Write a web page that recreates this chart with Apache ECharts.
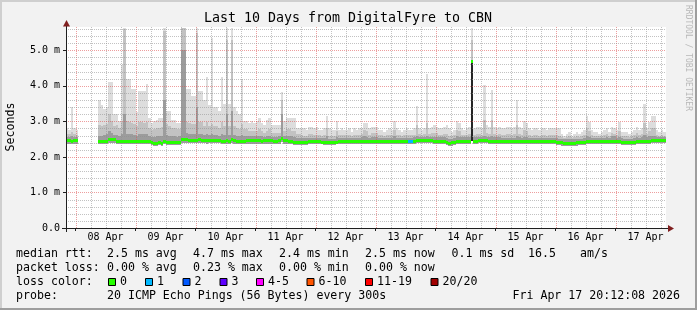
<!DOCTYPE html>
<html><head><meta charset="utf-8">
<script src="https://cdn.jsdelivr.net/npm/echarts@6/dist/echarts.min.js"></script>
<style>html,body{margin:0;padding:0;background:#f2f2f2;}#c{width:697px;height:310px;}</style>
</head><body><div id="c"></div>
<script>
// ---------------- DATA (hourly bins, values in ms) ----------------
const title = 'Last 10 Days from DigitalFyre to CBN';
const dayLabels = ['08 Apr','09 Apr','10 Apr','11 Apr','12 Apr','13 Apr','14 Apr','15 Apr','16 Apr','17 Apr'];
const yTickValues = [0, 1, 2, 3, 4, 5];
const lossLabels = ['0','1','2','3','4-5','6-10','11-19','20/20'];
const lossColors = ['#26ff00','#00b8ff','#0059ff','#5e00ff','#ff00ff','#ff5500','#ff0000','#a10000'];
// bin i covers hour (i-4) .. (i-3) relative to 08 Apr 00:00
const firstBinHour = -4;
// lowest ping (bottom of smoke)
const lo = [
2.37,2.37,2.36,2.37,2.37,null,null,null,null,null,
null,null,null,2.36,2.36,2.36,2.37,2.40,2.40,2.39,
2.37,2.36,2.36,2.37,2.36,2.36,2.37,2.36,2.36,2.36,
2.37,2.36,2.36,2.35,2.33,2.32,2.32,2.33,2.32,2.35,
2.34,2.34,2.34,2.34,2.34,2.34,2.40,2.40,2.39,2.38,
2.38,2.38,2.38,2.39,2.38,2.38,2.37,2.38,2.38,2.38,
2.38,2.38,2.37,2.37,2.37,2.37,2.40,2.37,2.37,2.37,
2.37,2.37,2.37,2.37,2.37,2.37,2.37,2.37,2.37,2.37,
2.37,2.37,2.37,2.37,2.37,2.37,2.42,2.37,2.37,2.37,
2.36,2.34,2.34,2.34,2.33,2.34,2.34,2.35,2.36,2.36,
2.36,2.36,2.35,2.34,2.34,2.33,2.34,2.34,2.35,2.36,
2.36,2.36,2.36,2.36,2.36,2.36,2.36,2.36,2.36,2.36,
2.36,2.36,2.36,2.36,2.36,2.36,2.36,2.36,2.36,2.36,
2.36,2.36,2.36,2.36,2.36,2.36,2.36,2.36,2.36,2.36,
2.38,2.38,2.38,2.38,2.38,2.38,2.38,2.37,2.37,2.37,
2.37,2.36,2.33,2.32,2.32,2.34,2.36,2.37,2.37,2.37,
2.37,2.37,2.44,2.37,2.37,2.38,2.38,2.38,2.38,2.37,
2.37,2.37,2.37,2.36,2.36,2.36,2.36,2.36,2.36,2.36,
2.36,2.36,2.36,2.36,2.36,2.36,2.36,2.36,2.36,2.36,
2.36,2.36,2.36,2.36,2.35,2.35,2.34,2.33,2.32,2.32,
2.32,2.32,2.32,2.32,2.32,2.33,2.33,2.34,2.35,2.35,
2.35,2.36,2.36,2.36,2.36,2.36,2.36,2.36,2.36,2.36,
2.36,2.35,2.34,2.33,2.33,2.33,2.33,2.34,2.35,2.36,
2.36,2.37,2.37,2.37,2.38,2.38,2.38,2.38,2.38,2.38];
// median rtt
const med = [
2.47,2.48,2.46,2.47,2.47,null,null,null,null,null,
null,null,null,2.45,2.45,2.45,2.46,2.50,2.51,2.50,
2.46,2.45,2.45,2.46,2.45,2.45,2.46,2.45,2.45,2.45,
2.46,2.45,2.45,2.44,2.41,2.40,2.40,2.41,2.40,2.44,
2.42,2.42,2.43,2.42,2.42,2.43,2.50,2.51,2.49,2.48,
2.48,2.48,2.48,2.49,2.48,2.48,2.47,2.48,2.48,2.48,
2.48,2.48,2.46,2.46,2.47,2.46,2.50,2.47,2.46,2.46,
2.46,2.46,2.47,2.47,2.47,2.47,2.47,2.47,2.46,2.47,
2.47,2.47,2.47,2.46,2.46,2.47,2.52,2.47,2.47,2.46,
2.45,2.42,2.42,2.42,2.41,2.42,2.42,2.44,2.45,2.45,
2.45,2.45,2.43,2.42,2.42,2.41,2.42,2.42,2.43,2.44,
2.45,2.45,2.45,2.45,2.44,2.45,2.45,2.45,2.46,2.45,
2.45,2.45,2.44,2.44,2.44,2.44,2.44,2.45,2.45,2.45,
2.45,2.45,2.45,2.45,2.45,2.45,2.44,2.44,2.44,2.45,
2.47,2.48,2.48,2.48,2.48,2.47,2.47,2.46,2.46,2.46,
2.46,2.45,2.42,2.40,2.41,2.43,2.45,2.46,2.46,2.46,
2.46,2.46,4.70,2.46,2.46,2.47,2.47,2.47,2.47,2.46,
2.46,2.46,2.46,2.45,2.45,2.45,2.45,2.45,2.45,2.45,
2.46,2.45,2.45,2.46,2.46,2.45,2.45,2.45,2.45,2.45,
2.45,2.45,2.45,2.45,2.44,2.44,2.43,2.42,2.41,2.40,
2.40,2.40,2.40,2.40,2.41,2.41,2.42,2.43,2.44,2.44,
2.44,2.45,2.45,2.45,2.45,2.45,2.45,2.45,2.45,2.45,
2.45,2.44,2.43,2.42,2.42,2.42,2.42,2.43,2.44,2.45,
2.45,2.46,2.46,2.46,2.47,2.47,2.47,2.47,2.47,2.47];
// top of the dark smoke band
const dk = [
2.56,2.56,2.58,2.56,2.55,null,null,null,null,null,
null,null,null,2.60,2.60,2.62,2.64,2.72,2.68,2.62,
2.62,2.60,2.64,3.20,2.64,2.64,2.64,2.62,2.60,2.64,
2.64,2.64,2.64,2.60,2.56,2.56,2.58,2.58,2.60,3.60,
2.62,2.60,2.58,2.58,2.56,2.58,5.00,5.00,2.66,2.64,
2.64,2.64,3.40,2.64,2.64,2.62,2.64,2.62,2.64,2.62,
2.62,2.60,2.64,2.62,3.20,2.62,3.30,2.62,2.60,2.60,
2.62,2.60,2.60,2.58,2.58,2.58,2.58,2.60,2.58,2.56,
2.58,2.60,2.56,2.56,2.56,2.58,3.20,2.58,2.60,2.60,
2.58,2.55,2.52,2.52,2.52,2.52,2.52,2.54,2.54,2.53,
2.53,2.53,2.52,2.52,2.58,2.51,2.51,2.51,2.56,2.53,
2.54,2.53,2.54,2.54,2.53,2.54,2.54,2.54,2.55,2.58,
2.56,2.54,2.56,2.56,2.56,2.54,2.54,2.53,2.54,2.54,
2.54,2.58,2.54,2.54,2.53,2.54,2.54,2.54,2.54,2.55,
2.60,2.57,2.56,2.57,2.60,2.56,2.56,2.56,2.55,2.55,
2.55,2.55,2.53,2.51,2.51,2.53,2.58,2.56,2.55,2.55,
2.55,2.55,4.70,2.55,2.55,2.56,2.56,2.60,2.56,2.55,
2.60,2.55,2.55,2.55,2.54,2.54,2.54,2.54,2.54,2.54,
2.60,2.55,2.54,2.56,2.56,2.54,2.54,2.54,2.54,2.54,
2.54,2.54,2.54,2.54,2.53,2.53,2.52,2.51,2.50,2.49,
2.49,2.50,2.49,2.49,2.50,2.50,2.51,2.52,2.60,2.56,
2.53,2.54,2.54,2.54,2.54,2.54,2.55,2.54,2.60,2.58,
2.54,2.56,2.52,2.51,2.51,2.51,2.51,2.52,2.56,2.54,
2.55,2.62,2.56,2.58,2.60,2.58,2.56,2.56,2.56,2.56];
// top of the medium smoke band
const md = [
2.64,2.64,2.70,2.64,2.62,null,null,null,null,null,
null,null,null,2.90,2.86,2.90,2.92,3.20,3.02,2.88,
2.90,2.82,2.98,5.60,3.02,2.98,2.95,2.92,2.88,2.98,
2.98,2.95,2.98,2.82,2.76,2.78,2.80,2.82,2.85,5.55,
2.92,2.88,2.82,2.82,2.78,2.78,5.64,5.64,2.98,2.95,
2.92,2.92,5.50,2.98,2.98,2.88,2.98,2.88,2.92,2.88,
2.88,2.82,2.98,2.88,5.30,2.88,5.30,2.88,2.82,2.78,
2.92,2.78,2.78,2.72,2.72,2.72,2.72,2.78,2.72,2.68,
2.72,2.78,2.68,2.68,2.68,2.68,3.60,2.72,2.78,2.78,
2.72,2.72,2.64,2.64,2.62,2.60,2.60,2.64,2.64,2.62,
2.63,2.62,2.60,2.63,2.80,2.60,2.60,2.60,2.74,2.62,
2.63,2.62,2.62,2.63,2.60,2.63,2.62,2.63,2.65,2.76,
2.74,2.63,2.68,2.68,2.68,2.62,2.62,2.60,2.62,2.63,
2.62,2.76,2.63,2.62,2.60,2.62,2.62,2.62,2.62,2.63,
2.90,2.65,2.63,2.65,2.95,2.65,2.66,2.68,2.66,2.63,
2.63,2.65,2.65,2.60,2.58,2.62,2.76,2.72,2.63,2.62,
2.63,2.65,5.30,2.63,2.65,2.65,2.63,3.05,2.66,2.65,
3.05,2.65,2.63,2.65,2.62,2.62,2.65,2.65,2.62,2.65,
2.90,2.65,2.62,2.76,2.74,2.62,2.60,2.62,2.62,2.60,
2.62,2.62,2.60,2.62,2.62,2.62,2.61,2.60,2.56,2.54,
2.55,2.58,2.54,2.55,2.58,2.55,2.58,2.62,2.80,2.72,
2.62,2.60,2.60,2.58,2.60,2.62,2.65,2.60,2.68,2.65,
2.62,2.74,2.58,2.58,2.58,2.56,2.58,2.62,2.66,2.62,
2.65,2.95,2.65,2.74,2.80,2.80,2.62,2.60,2.62,2.60];
// highest ping (top of light smoke)
const hi = [
2.80,2.75,3.40,2.80,2.75,null,null,null,null,null,
null,null,null,3.60,3.45,3.35,3.40,4.10,4.10,3.20,
3.20,3.00,4.58,5.64,4.20,4.20,3.90,3.90,3.25,3.85,
3.85,3.85,4.05,3.10,2.95,3.00,3.05,3.10,3.10,5.64,
3.30,3.30,3.05,3.05,2.95,2.95,5.64,5.64,3.90,3.90,
3.70,3.70,5.64,3.85,3.85,3.60,4.25,3.45,5.35,3.40,
3.40,3.30,4.25,3.50,5.64,3.50,5.64,3.40,3.30,3.20,
4.20,3.00,3.00,2.95,3.00,2.95,3.00,3.10,2.95,2.90,
3.05,3.10,2.90,2.90,2.90,2.90,3.83,3.00,3.10,3.10,
3.10,3.10,2.80,2.80,2.80,2.80,2.75,2.85,2.85,2.80,
2.85,2.75,2.75,2.80,3.15,2.80,2.75,2.75,3.00,2.75,
2.80,2.75,2.75,2.80,2.70,2.80,2.75,2.80,2.80,2.95,
2.95,2.80,2.85,2.85,2.85,2.75,2.75,2.70,2.75,2.80,
2.75,3.00,2.80,2.75,2.70,2.75,2.80,2.75,2.75,2.80,
3.43,2.80,2.75,2.80,4.34,2.80,2.85,2.90,2.85,2.80,
2.80,2.85,2.90,2.80,2.70,2.75,3.00,2.95,2.80,2.75,
2.80,2.85,5.64,2.80,2.85,2.85,2.80,4.02,2.90,2.85,
3.87,2.85,2.80,2.85,2.80,2.80,2.85,2.85,2.80,2.85,
3.60,2.85,2.80,3.00,2.95,2.80,2.75,2.80,2.80,2.75,
2.80,2.80,2.75,2.80,2.80,2.80,2.80,2.80,2.65,2.60,
2.65,2.70,2.60,2.65,2.70,2.65,2.70,2.75,3.15,2.98,
2.75,2.70,2.70,2.65,2.70,2.75,2.80,2.70,2.85,2.80,
2.75,2.98,2.70,2.70,2.70,2.65,2.70,2.75,2.85,2.75,
2.80,3.48,2.80,2.98,3.15,3.15,2.75,2.70,2.75,2.70];
// lost pings (of 20) per bin
const loss = [
0,0,0,0,0,null,null,null,null,null,
null,null,null,0,0,0,0,0,0,0,
0,0,0,0,0,0,0,0,0,0, 0,0,0,0,0,0,0,0,0,0,
0,0,0,0,0,0,0,0,0,0, 0,0,0,0,0,0,0,0,0,0,
0,0,0,0,0,0,0,0,0,0, 0,0,0,0,0,0,0,0,0,0,
0,0,0,0,0,0,0,0,0,0, 0,0,0,0,0,0,0,0,0,0,
0,0,0,0,0,0,0,0,0,0, 0,0,0,0,0,0,0,0,0,0,
0,0,0,0,0,0,0,0,0,0, 0,0,0,0,0,0,0,1,1,0,
0,0,0,0,0,0,0,0,0,0, 0,0,0,0,0,0,0,0,0,0,
0,0,0,0,0,0,0,0,0,0, 0,0,0,0,0,0,0,0,0,0,
0,0,0,0,0,0,0,0,0,0, 0,0,0,0,0,0,0,0,0,0,
0,0,0,0,0,0,0,0,0,0, 0,0,0,0,0,0,0,0,0,0,
0,0,0,0,0,0,0,0,0,0, 0,0,0,0,0,0,0,0,0,0];
// bins where nearly all pings sit between median and lo (black core)
const coreBins = [162];
const coreTop = [4.70];

const legendRows = [
  {y:254, items:[[16,'median rtt:'],[107,'2.5 ms avg'],[193,'4.7 ms max'],[279,'2.4 ms min'],[365,'2.5 ms now'],[451.5,'0.1 ms sd'],[528,'16.5'],[580,'am/s']]},
  {y:268, items:[[16,'packet loss:'],[107,'0.00 % avg'],[193,'0.23 % max'],[279,'0.00 % min'],[365,'0.00 % now']]},
  {y:282, items:[[16,'loss color:']]},
  {y:296, items:[[16,'probe:'],[107,'20 ICMP Echo Pings (56 Bytes) every 300s']]}
];
const swatchX = [108, 145, 182.5, 219.5, 256, 306.5, 365, 430.5];
const dateText = 'Fri Apr 17 20:12:08 2026';

// ---------------- CHART ----------------
const MONO = '"DejaVu Sans Mono", "Liberation Mono", monospace';
const G = {left:66, top:27, width:600, height:201};
const xMin = -3.8, xMax = 236.2, yMax = 5.655;
const hours = lo.map((_, i) => firstBinHour + i);

function lossIndex(n){ if(n<=3) return n; if(n<=5) return 4; if(n<=10) return 5; if(n<=19) return 6; return 7; }

function binX(api, i){
  return [Math.round(api.coord([hours[i], 0])[0]), Math.round(api.coord([hours[i]+1, 0])[0])];
}
function Yp(api, v){ return Math.round(api.coord([0, v])[1]); }

const smokeSeries = {
  type:'custom', name:'smoke', z:2, clip:true, silent:true,
  data: hours.map((h,i)=>[h, i]), encode:{x:0, y:1},
  renderItem(params, api){
    const i = params.dataIndex;
    if (lo[i] == null) return null;
    const [x0, x1] = binX(api, i);
    const band = (a, b, fill) => {
      const ya = Yp(api, a), yb = Yp(api, b);
      return {type:'rect', shape:{x:x0, y:yb, width:x1-x0, height:Math.max(0, ya-yb)}, style:{fill}};
    };
    const ch = [band(lo[i], hi[i], '#dddddd'), band(lo[i], md[i], '#c2c2c2'), band(lo[i], dk[i], '#9c9c9c')];
    const k = coreBins.indexOf(i);
    if (k >= 0) ch.push(band(lo[i], coreTop[k], '#262626'));
    return {type:'group', children: ch};
  }
};

const medianSeries = {
  type:'custom', name:'median', z:4, clip:true, silent:true,
  data: hours.map((h,i)=>[h, i]), encode:{x:0, y:1},
  renderItem(params, api){
    const i = params.dataIndex;
    if (med[i] == null) return null;
    const [x0, x1] = binX(api, i);
    const y = Yp(api, med[i]);
    return {type:'rect', shape:{x:x0, y:y-1, width:x1-x0, height:3}, style:{fill: lossColors[lossIndex(loss[i])]}};
  }
};

// grid lines (drawn over the smoke, like rrdtool)
const vGridHours = []; for (let h = 0; h <= xMax; h += 6) vGridHours.push(h);
const hGridVals = []; for (let k = 1; k * 0.2 <= yMax; k++) hGridVals.push(+(k*0.2).toFixed(1));
const MAJ = 'rgba(222,79,79,0.55)', MIN = 'rgba(143,143,143,0.55)';
const vGridSeries = {
  type:'custom', z:3, silent:true, clip:true, data: vGridHours.map(h=>[h, 0]), encode:{x:0, y:1},
  renderItem(params, api){
    const h = vGridHours[params.dataIndex];
    const x = Math.round(api.coord([h, 0])[0]) + 0.5;
    return {type:'line', shape:{x1:x, y1:G.top, x2:x, y2:G.top+G.height}, style:{stroke: h % 24 === 0 ? MAJ : MIN, lineWidth:1, lineDash:[1,1]}};
  }
};
const hGridSeries = {
  type:'custom', z:3, silent:true, clip:true, data: hGridVals.map(v=>[0, v]), encode:{x:0, y:1},
  renderItem(params, api){
    const v = hGridVals[params.dataIndex];
    const y = Math.round(api.coord([0, v])[1]) + 0.5;
    const major = Math.abs(v - Math.round(v)) < 1e-6;
    return {type:'line', shape:{x1:G.left, y1:y, x2:G.left+G.width, y2:y}, style:{stroke: major ? MAJ : MIN, lineWidth:1, lineDash:[1,1]}};
  }
};

const graphic = [];
// 3D frame
graphic.push({type:'rect', shape:{x:0,y:0,width:697,height:2}, style:{fill:'#cfcfcf'}, silent:true});
graphic.push({type:'rect', shape:{x:0,y:0,width:2,height:310}, style:{fill:'#cfcfcf'}, silent:true});
graphic.push({type:'rect', shape:{x:0,y:308,width:697,height:2}, style:{fill:'#9e9e9e'}, silent:true});
graphic.push({type:'rect', shape:{x:695,y:0,width:2,height:310}, style:{fill:'#9e9e9e'}, silent:true});
// axis extensions and arrows
graphic.push({type:'line', shape:{x1:62, y1:228.5, x2:669, y2:228.5}, style:{stroke:'#1f1f1f', lineWidth:1}, z:10, silent:true});
graphic.push({type:'line', shape:{x1:66.5, y1:232, x2:66.5, y2:25}, style:{stroke:'#1f1f1f', lineWidth:1}, z:10, silent:true});
graphic.push({type:'polygon', shape:{points:[[63,26.5],[70,26.5],[66.5,20]]}, style:{fill:'#801f1f'}, z:11, silent:true});
graphic.push({type:'polygon', shape:{points:[[668,225],[668,232],[674,228.5]]}, style:{fill:'#801f1f'}, z:11, silent:true});
// title
graphic.push({type:'text', x:348, y:19, style:{text:title, font:'13.3px '+MONO, fill:'#000', textAlign:'center', textVerticalAlign:'middle'}, silent:true});
// y axis name
graphic.push({type:'text', x:11, y:127, rotation:Math.PI/2, style:{text:'Seconds', font:'11.6px '+MONO, fill:'#000', textAlign:'center', textVerticalAlign:'middle'}, silent:true});
// watermark
graphic.push({type:'text', x:688, y:5, rotation:-Math.PI/2, style:{text:'RRDTOOL / TOBI OETIKER', font:'8px '+MONO, fill:'#b8b8b8', textAlign:'left', textVerticalAlign:'middle'}, silent:true});
// legend text
legendRows.forEach(r => r.items.forEach(([x, t]) => graphic.push({type:'text', x, y:r.y, style:{text:t, font:'11.6px '+MONO, fill:'#000', textAlign:'left', textVerticalAlign:'middle'}, silent:true})));
lossLabels.forEach((t, k) => {
  graphic.push({type:'rect', shape:{x:swatchX[k]+0.5, y:278.5, width:7, height:7}, style:{fill:lossColors[k], stroke:'#000', lineWidth:1}, silent:true});
  graphic.push({type:'text', x:swatchX[k]+12, y:282, style:{text:t, font:'11.6px '+MONO, fill:'#000', textAlign:'left', textVerticalAlign:'middle'}, silent:true});
});
graphic.push({type:'text', x:680, y:296, style:{text:dateText, font:'11.6px '+MONO, fill:'#000', textAlign:'right', textVerticalAlign:'middle'}, silent:true});

const chart = echarts.init(document.getElementById('c'), null, {renderer:'canvas', width:697, height:310});
chart.setOption({
  animation:false,
  backgroundColor:'#f2f2f2',
  grid:{left:G.left, top:G.top, width:G.width, height:G.height, backgroundColor:'#ffffff', show:true, borderWidth:0},
  xAxis:{
    type:'value', min:xMin, max:xMax,
    axisLine:{show:true, onZero:false, lineStyle:{color:'#1f1f1f', width:1}},
    axisTick:{show:true, length:3, lineStyle:{color:'#1f1f1f'}, customValues: dayLabels.map((_, d) => d*24)},
    axisLabel:{show:true, customValues: dayLabels.map((_, d) => d*24+12), formatter: v => dayLabels[Math.round((v-12)/24)] || '', fontFamily:MONO, fontSize:10, color:'#000', margin:4},
    splitLine:{show:false}
  },
  yAxis:{
    type:'value', min:0, max:yMax, interval:1,
    axisLine:{show:true, onZero:false, lineStyle:{color:'#1f1f1f', width:1}},
    axisTick:{show:true, length:3, lineStyle:{color:'#1f1f1f'}, customValues: yTickValues},
    axisLabel:{show:true, customValues: yTickValues, formatter: v => v === 0 ? '0.0' : v.toFixed(1) + ' m', fontFamily:MONO, fontSize:10, color:'#000', margin:6},
    splitLine:{show:false}
  },
  series:[smokeSeries, vGridSeries, hGridSeries, medianSeries],
  graphic
});
</script></body></html>
